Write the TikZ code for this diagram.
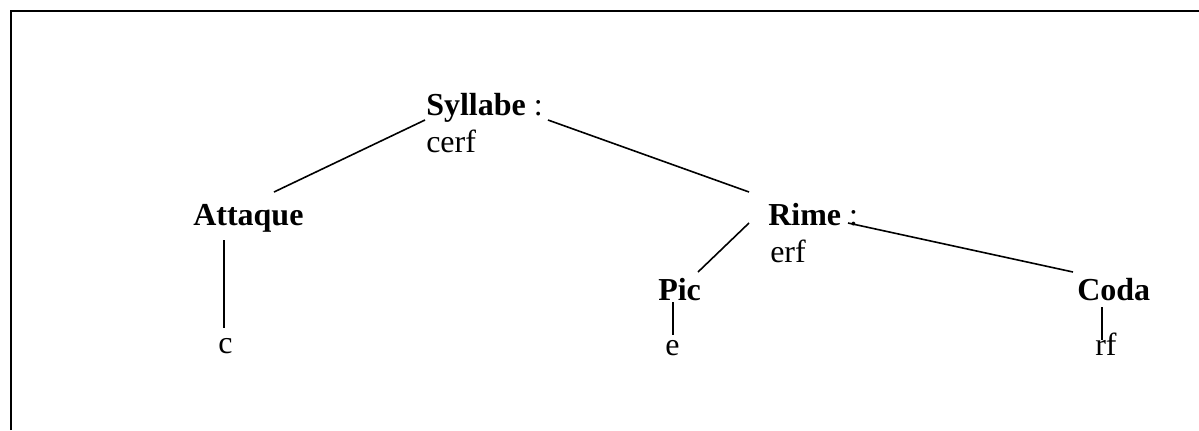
\documentclass[tikz,border=0pt]{standalone}
\usepackage{fontspec}
\setmainfont{Liberation Serif}
\begin{document}
\begin{tikzpicture}[x=0.75pt,y=-0.75pt,
  lbl/.style={anchor=base west,inner sep=0pt,font=\fontsize{24}{28}\selectfont},
  conn/.style={line width=1.2pt,black},
  frame/.style={line width=1.8pt,black}]
\useasboundingbox (0,0) rectangle (1199,430);
\draw[frame] (11,430) -- (11,11) -- (1199,11);
% nodes
\node[lbl] (syl) at (426,115) {\textbf{Syllabe} :};
\node[lbl] (sylv) at (426,152) {cerf};
\node[lbl] (att) at (193,225) {\textbf{Attaque}};
\node[lbl] (rime) at (768,225) {\textbf{Rime} :};
\node[lbl] (rimev) at (770,262) {erf};
\node[lbl] (pic) at (658,300) {\textbf{Pic}};
\node[lbl] (coda) at (1077,300) {\textbf{Coda}};
\node[lbl] (c) at (218,353) {c};
\node[lbl] (e) at (665,355) {e};
\node[lbl] (rf) at (1095,355) {rf};
% connectors
\draw[conn] ([shift={(-1,5)}]syl.base west) -- ([shift={(81,-33)}]att.base west);
\draw[conn] ([shift={(122,5)}]syl.base west) -- ([shift={(-19,-33)}]rime.base west);
\draw[conn] ([shift={(-19,-2)}]rime.base west) -- ([shift={(40,-28)}]pic.base west);
\draw[conn] ([shift={(80,-2)}]rime.base west) -- ([shift={(-4,-28)}]coda.base west);
\draw[conn] ([shift={(31,15)}]att.base west) -- ([shift={(6,-25)}]c.base west);
\draw[conn] ([shift={(15,2)}]pic.base west) -- ([shift={(8,-20)}]e.base west);
\draw[conn] ([shift={(25,7)}]coda.base west) -- ([shift={(7,-15)}]rf.base west);
\end{tikzpicture}
\end{document}
